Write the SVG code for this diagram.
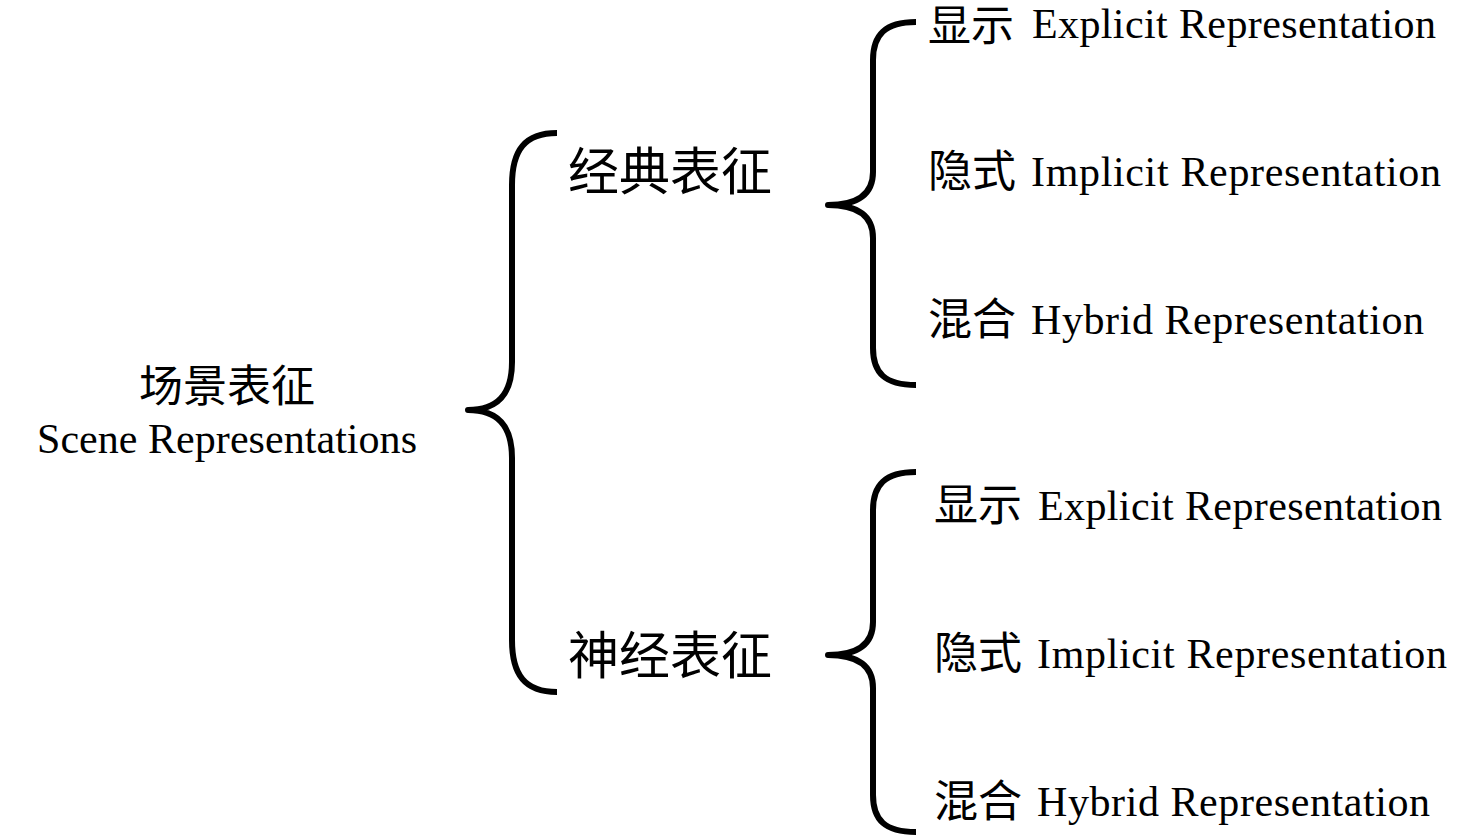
<svg xmlns="http://www.w3.org/2000/svg" width="1478" height="836" viewBox="0 0 1478 836">
<style>
.brace{fill:none;stroke:#000;stroke-width:6;stroke-linecap:butt;stroke-linejoin:round}
.cjk{font-family:"Noto Sans CJK SC","Noto Sans CJK JP",sans-serif;fill:#000}
.en{font-family:"Liberation Serif","Times New Roman",serif;fill:#000}
</style>
<rect width="1478" height="836" fill="#fff"/>
<g id="connectors">
<path class="brace" d="M557,133 C525,133 512,150 512,185 L512,362 C512,395 497,410 468,410 C497,410 512,425 512,458 L512,640 C512,675 525,692 557,692"/>
<path class="brace" d="M916,22 C885,22 873,35 873,60 L873,172 C873,195 857,205 828,205 C857,205 873,215 873,238 L873,348 C873,373 885,385 916,385"/>
<path class="brace" d="M916,472 C885,472 873,485 873,510 L873,622 C873,645 857,655 828,655 C857,655 873,665 873,688 L873,795 C873,820 885,832 916,832"/>
</g>
<g id="root">
<text class="cjk" x="227" y="402" font-size="44" text-anchor="middle">场景表征</text>
<text class="en" x="37" y="453" font-size="42" textLength="380">Scene Representations</text>
</g>
<g id="classic">
<text class="cjk" x="568" y="190" font-size="51">经典表征</text>
</g>
<g id="neural">
<text class="cjk" x="568" y="674" font-size="51">神经表征</text>
</g>
<g id="c-explicit">
<text class="cjk" x="928" y="41" font-size="43">显示</text>
<text class="en" x="1032" y="38" font-size="42" textLength="404">Explicit Representation</text>
</g>
<g id="c-implicit">
<text class="cjk" x="928" y="187" font-size="44">隐式</text>
<text class="en" x="1031" y="186" font-size="42" textLength="410">Implicit Representation</text>
</g>
<g id="c-hybrid">
<text class="cjk" x="928" y="335" font-size="44">混合</text>
<text class="en" x="1031" y="334" font-size="42" textLength="393">Hybrid Representation</text>
</g>
<g id="n-explicit">
<text class="cjk" x="934" y="521" font-size="44">显示</text>
<text class="en" x="1038" y="520" font-size="42" textLength="404">Explicit Representation</text>
</g>
<g id="n-implicit">
<text class="cjk" x="934" y="669" font-size="44">隐式</text>
<text class="en" x="1037" y="668" font-size="42" textLength="410">Implicit Representation</text>
</g>
<g id="n-hybrid">
<text class="cjk" x="934" y="817" font-size="44">混合</text>
<text class="en" x="1037" y="816" font-size="42" textLength="393">Hybrid Representation</text>
</g>
</svg>
